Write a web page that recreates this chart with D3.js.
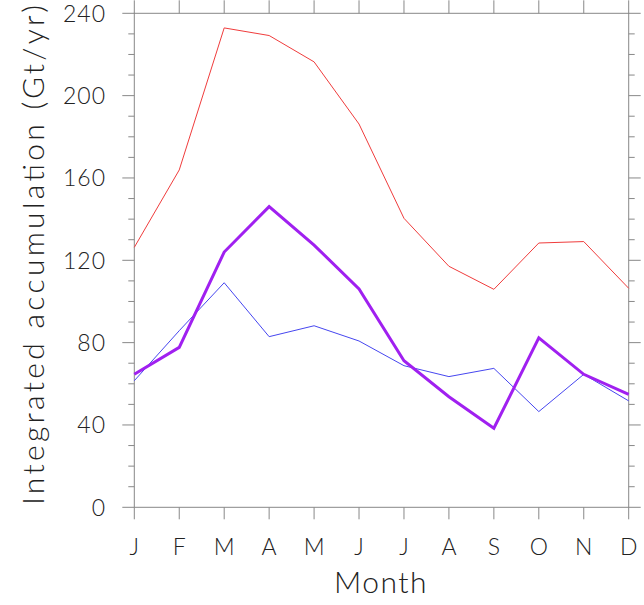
<!DOCTYPE html>
<html><head><meta charset="utf-8">
<script src="https://cdn.jsdelivr.net/npm/d3@7"></script>
<style>
html,body{margin:0;padding:0;background:#fff;}
svg text{font-family:"Lato","DejaVu Sans",sans-serif;font-weight:300;fill:#222;}
</style></head>
<body><svg id="c" width="644" height="605"></svg>
<script>
const months = ["J","F","M","A","M","J","J","A","S","O","N","D"];
const redSeries = [126.3,163.9,232.9,229.2,216.4,186.2,140.4,117.1,105.9,128.4,129.1,106.4];
const blueSeries = [61.5,85.8,109.1,82.9,88.2,80.8,68.8,63.5,67.5,46.5,64.6,51.7];
const purpleSeries = [64.6,77.7,124.0,146.1,127.4,106.1,71.2,53.7,38.4,82.3,64.6,54.9];
const yTicks = [0,40,80,120,160,200,240];
const yLabel = "Integrated accumulation (Gt/yr)";
const xLabel = "Month";

const L=134.3, R=628.7, T=13.3, B=507.3;
const svg = d3.select("#c");
const x = d3.scaleLinear().domain([0,11]).range([L,R]);
const y = d3.scaleLinear().domain([0,240]).range([B,T]);
const idx = d3.range(months.length);
const axisColor = "#888";

svg.append("rect").attr("x",L).attr("y",T).attr("width",R-L).attr("height",B-T)
  .attr("fill","none").attr("stroke",axisColor).attr("stroke-width",1);

const minor = d3.range(0,241,10).filter(v=>v%40!==0);
const g = svg.append("g").attr("stroke",axisColor).attr("stroke-width",1);
yTicks.forEach(v=>{
  g.append("line").attr("x1",L-12).attr("x2",L).attr("y1",y(v)).attr("y2",y(v));
  g.append("line").attr("x1",R).attr("x2",R+12).attr("y1",y(v)).attr("y2",y(v));
});
minor.forEach(v=>{
  g.append("line").attr("x1",L-6).attr("x2",L).attr("y1",y(v)).attr("y2",y(v));
  g.append("line").attr("x1",R).attr("x2",R+6).attr("y1",y(v)).attr("y2",y(v));
});
idx.forEach(i=>{
  g.append("line").attr("x1",x(i)).attr("x2",x(i)).attr("y1",B).attr("y2",B+12);
  g.append("line").attr("x1",x(i)).attr("x2",x(i)).attr("y1",T-13).attr("y2",T);
});

svg.append("g").selectAll("text").data(yTicks).join("text")
  .attr("x",106).attr("y",d=>y(d)).attr("dy","0.36em")
  .attr("text-anchor","end").attr("font-size",23).attr("letter-spacing","1px").text(d=>d);
svg.append("g").selectAll("text").data(idx).join("text")
  .attr("x",i=>x(i)).attr("y",555).attr("text-anchor","middle")
  .attr("font-size",23).text(i=>months[i]);

svg.append("text").attr("x",381).attr("y",593).attr("text-anchor","middle")
  .attr("font-size",30).attr("letter-spacing","1.5px").text(xLabel);
svg.append("text").attr("transform","translate(44,255) rotate(-90)")
  .attr("text-anchor","middle").attr("font-size",30)
  .attr("textLength",500).attr("lengthAdjust","spacing").text(yLabel);

const line = d3.line().x((d,i)=>x(i)).y(d=>y(d));
svg.append("path").datum(redSeries).attr("d",line).attr("fill","none")
  .attr("stroke","#f03c3c").attr("stroke-width",1);
svg.append("path").datum(blueSeries).attr("d",line).attr("fill","none")
  .attr("stroke","#4646f0").attr("stroke-width",1);
svg.append("path").datum(purpleSeries).attr("d",line).attr("fill","none")
  .attr("stroke","#a020f0").attr("stroke-width",3).attr("stroke-linejoin","miter");
</script></body></html>
